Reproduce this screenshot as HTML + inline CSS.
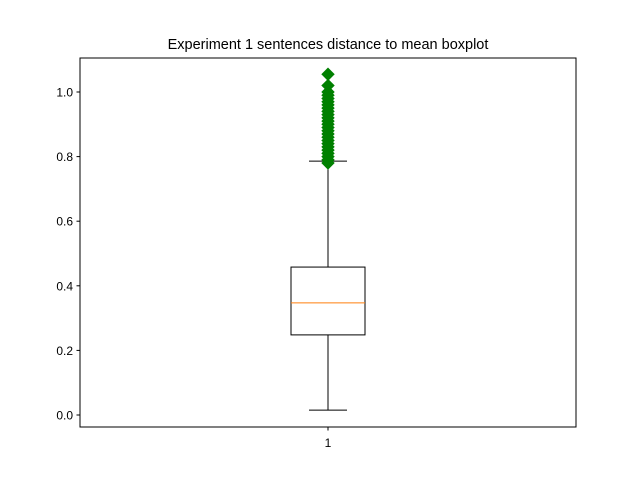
<!DOCTYPE html>
<html><head><meta charset="utf-8"><style>
body{margin:0;background:#fff}
svg{display:block;font-family:"Liberation Sans","DejaVu Sans",sans-serif}
</style></head><body>
<svg id="chart" width="640" height="480">
<rect x="0" y="0" width="640" height="480" fill="#fff"/>
<text x="328" y="49" text-anchor="middle" font-size="14.5">Experiment 1 sentences distance to mean boxplot</text>
<g id="marks"></g>
<rect x="80" y="58" width="496" height="369" fill="none" stroke="#000" stroke-width="1"/>
<g id="axes"></g>
</svg>
<script>
const categories = ["1"];
const q1 = [0.248];
const median = [0.347];
const q3 = [0.458];
const whiskerLow = [0.015];
const whiskerHigh = [0.786];
const fliers = [[0.78,0.79,0.80,0.81,0.82,0.83,0.84,0.85,0.86,0.87,0.88,0.89,0.90,0.91,0.92,0.93,0.94,0.95,0.96,0.97,0.98,0.99,1.00,1.02,1.055]];
const yTicks = [0.0,0.2,0.4,0.6,0.8,1.0];
const yTickLabels = ["0.0","0.2","0.4","0.6","0.8","1.0"];

const NS="http://www.w3.org/2000/svg";
const y = v => 415 - v*323;
const x = i => 80 + 496*(i+1)/(categories.length+1);
function mk(tag, attrs, parent){const e=document.createElementNS(NS,tag);for(const k in attrs)e.setAttribute(k,attrs[k]);parent.appendChild(e);return e;}
const marks=document.getElementById('marks'), axes=document.getElementById('axes');

categories.forEach((c,i)=>{
  const cx=x(i), hw=37, cw=19;
  let e;
  e=mk('line',{x1:cx,x2:cx,y1:y(q1[i]),y2:y(whiskerLow[i]),stroke:'#000'},marks);
  
  
  e=mk('line',{x1:cx,x2:cx,y1:y(q3[i]),y2:y(whiskerHigh[i]),stroke:'#000'},marks);
  
  
  e=mk('line',{x1:cx-cw,x2:cx+cw,y1:y(whiskerLow[i]),y2:y(whiskerLow[i]),stroke:'#000'},marks);
  
  
  e=mk('line',{x1:cx-cw,x2:cx+cw,y1:y(whiskerHigh[i]),y2:y(whiskerHigh[i]),stroke:'#000'},marks);
  
  
  e=mk('rect',{x:cx-hw,y:y(q3[i]),width:2*hw,height:y(q1[i])-y(q3[i]),fill:'none',stroke:'#000'},marks);
  
  
  e=mk('line',{x1:cx-hw,x2:cx+hw,y1:y(median[i]),y2:y(median[i]),stroke:'#ff7f0e'},marks);
  
  
  fliers[i].forEach(v=>{
    const py=y(v), s=6;
    const p=mk('polygon',{points:`${cx},${py-s} ${cx+s},${py} ${cx},${py+s} ${cx-s},${py}`,fill:'#008000',stroke:'#008000'},marks);
    
    
  });
  const t=mk('line',{x1:cx,x2:cx,y1:427,y2:430.5,stroke:'#000'},axes);
  
  
  const l=mk('text',{x:cx,y:447,'text-anchor':'middle','font-size':'12'},axes);
  l.textContent=c;
  
  
});
yTicks.forEach((v,k)=>{
  const t=mk('line',{x1:76.5,x2:80,y1:y(v),y2:y(v),stroke:'#000'},axes);
  
  
  const l=mk('text',{x:73,y:y(v)+4.5,'text-anchor':'end','font-size':'12'},axes);
  l.textContent=yTickLabels[k];
  
  
});
</script>
</body></html>
